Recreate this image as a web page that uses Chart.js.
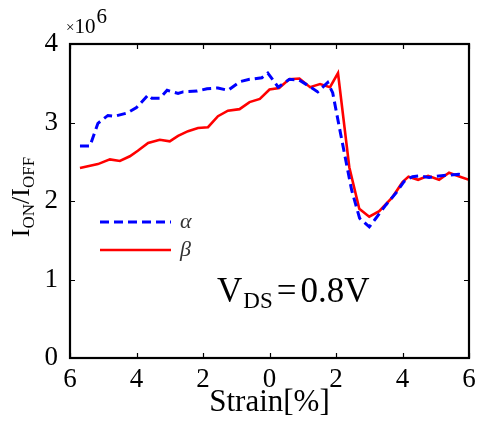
<!DOCTYPE html>
<html>
<head>
<meta charset="utf-8">
<script src="https://cdn.jsdelivr.net/npm/chart.js@4"></script>
<style>
  html, body { margin: 0; padding: 0; background: #fff; }
  #wrap { width: 478px; height: 421px; }
</style>
</head>
<body>
<div id="wrap"><canvas id="chart" width="478" height="421"></canvas></div>
<script>
// strain values (%), negative = compressive side; y in units of 1e6
const alphaX = [-5.7, -5.4, -5.16, -4.86, -4.65, -4.29, -4.0, -3.65, -3.54, -3.3, -3.08, -2.75, -2.6, -2.18, -1.88, -1.55, -1.25, -0.89, -0.6, -0.23, -0.05, 0.26, 0.6, 0.9, 1.2, 1.45, 1.75, 1.9, 2.1, 2.47, 2.71, 3.0, 3.2, 3.5, 3.8, 4.05, 4.3, 4.5, 4.8, 5.1, 5.4, 5.7, 5.85];
const alphaY = [2.70, 2.70, 2.99, 3.09, 3.08, 3.12, 3.19, 3.35, 3.31, 3.31, 3.41, 3.37, 3.39, 3.40, 3.43, 3.44, 3.41, 3.52, 3.55, 3.57, 3.63, 3.45, 3.55, 3.54, 3.46, 3.39, 3.51, 3.38, 2.94, 2.14, 1.78, 1.67, 1.78, 1.95, 2.10, 2.25, 2.31, 2.32, 2.30, 2.32, 2.33, 2.34, 2.33];

const betaX = [-5.7, -5.16, -4.8, -4.5, -4.2, -3.96, -3.65, -3.3, -3.0, -2.75, -2.45, -2.15, -1.85, -1.55, -1.25, -0.9, -0.6, -0.29, 0.0, 0.29, 0.59, 0.9, 1.22, 1.52, 1.82, 2.06, 2.4, 2.7, 3.0, 3.3, 3.7, 4.0, 4.18, 4.47, 4.77, 5.1, 5.4, 5.73, 6.0];
const betaY = [2.42, 2.47, 2.53, 2.51, 2.57, 2.64, 2.74, 2.78, 2.76, 2.83, 2.89, 2.93, 2.94, 3.08, 3.15, 3.17, 3.26, 3.30, 3.42, 3.44, 3.55, 3.56, 3.45, 3.49, 3.45, 3.63, 2.43, 1.90, 1.80, 1.87, 2.05, 2.24, 2.31, 2.27, 2.32, 2.27, 2.36, 2.31, 2.27];

const seriesNames = ['\u03B1', '\u03B2'];
const serif = '"Liberation Serif", "DejaVu Serif", serif';

function pts(xs, ys) { return xs.map((x, i) => ({ x, y: ys[i] })); }

// draws pieces of text one after another, each with its own size and vertical shift
function runText(ctx, parts, x, y, font) {
    parts.forEach(p => {
        ctx.font = p[1] + 'px ' + font;
        ctx.fillText(p[0], x, y + p[2]);
        x += ctx.measureText(p[0]).width + (p[3] || 0);
    });
}

// inward ticks on all four sides, box, and the text the axes can't do
const decor = {
    id: 'decor',
    afterDraw(chart) {
        const { ctx, chartArea: a, scales } = chart;
        const xs = scales.x, ys = scales.y;
        ctx.save();
        ctx.strokeStyle = '#000';
        ctx.lineWidth = 1.2;
        ctx.beginPath();
        xs.ticks.forEach(t => {
            const px = Math.round(xs.getPixelForValue(t.value)) + 0.5;
            ctx.moveTo(px, a.bottom); ctx.lineTo(px, a.bottom - 5);
            ctx.moveTo(px, a.top); ctx.lineTo(px, a.top + 5);
        });
        ys.ticks.forEach(t => {
            const py = Math.round(ys.getPixelForValue(t.value)) + 0.5;
            ctx.moveTo(a.left, py); ctx.lineTo(a.left + 5, py);
            ctx.moveTo(a.right, py); ctx.lineTo(a.right - 5, py);
        });
        ctx.stroke();
        ctx.lineWidth = 2.2;
        ctx.strokeRect(a.left, a.top, a.right - a.left, a.bottom - a.top);

        ctx.fillStyle = '#000';
        ctx.textBaseline = 'alphabetic';

        // x title
        ctx.font = '31px ' + serif;
        ctx.textAlign = 'center';
        ctx.fillText('Strain[%]', (a.left + a.right) / 2, 411);

        // exponent
        ctx.textAlign = 'left';
        runText(ctx, [['\u00D7', 15, -1, 0], ['10', 21, 0, 1], ['6', 21, -10]], 66, 33, serif);

        // y title, rotated, with subscripts
        ctx.save();
        ctx.translate(29, 197);
        ctx.rotate(-Math.PI / 2);
        const parts = [['I', 26, 0], ['ON', 17, 5], ['/I', 26, 0], ['OFF', 17, 5]];
        let w = 0;
        parts.forEach(p => { ctx.font = p[1] + 'px ' + serif; w += ctx.measureText(p[0]).width; });
        runText(ctx, parts, -w / 2, 0, serif);
        ctx.restore();

        // V_DS annotation
        runText(ctx, [['V', 35, 0, 1], ['DS', 23, 6, 4], ['=', 35, 0, 4], ['0.8V', 35, 0]], 217, 302, serif);

        // legend
        chart.data.datasets.forEach((ds, i) => {
            const ly = 222 + i * 28;
            ctx.save();
            ctx.strokeStyle = ds.borderColor;
            ctx.lineWidth = ds.borderWidth;
            ctx.setLineDash(ds.borderDash || []);
            ctx.beginPath();
            ctx.moveTo(100, ly); ctx.lineTo(171, ly);
            ctx.stroke();
            ctx.restore();
            ctx.font = 'italic 22px ' + serif;
            ctx.fillStyle = '#333';
            ctx.fillText(ds.label, 180, ly + 6);
        });
        ctx.restore();
    }
};

new Chart(document.getElementById('chart'), {
    type: 'line',
    data: {
        datasets: [
            { label: seriesNames[0], data: pts(alphaX, alphaY), borderColor: '#0000ff', borderWidth: 3, borderDash: [9, 5], pointRadius: 0, fill: false, tension: 0 },
            { label: seriesNames[1], data: pts(betaX, betaY), borderColor: '#ff0000', borderWidth: 2.6, pointRadius: 0, fill: false, tension: 0 },
        ]
    },
    options: {
        responsive: false,
        animation: false,
        layout: { padding: { top: 44, right: 9, left: 0, bottom: 0 } },
        plugins: { legend: { display: false }, tooltip: { enabled: false } },
        scales: {
            x: {
                type: 'linear', min: -6, max: 6,
                grid: { display: false, drawTicks: false },
                border: { display: false },
                ticks: { stepSize: 2, padding: 6, color: '#000', font: { family: serif, size: 27 }, callback: v => Math.abs(v) },
                afterFit: s => { s.height = 63; s.paddingLeft = 0; s.paddingRight = 0; }
            },
            y: {
                min: 0, max: 4,
                grid: { display: false, drawTicks: false },
                border: { display: false },
                ticks: { stepSize: 1, padding: 12, color: '#000', font: { family: serif, size: 27 } },
                afterFit: s => { s.width = 70; s.paddingTop = 0; s.paddingBottom = 0; }
            }
        }
    },
    plugins: [decor]
});
</script>
</body>
</html>
